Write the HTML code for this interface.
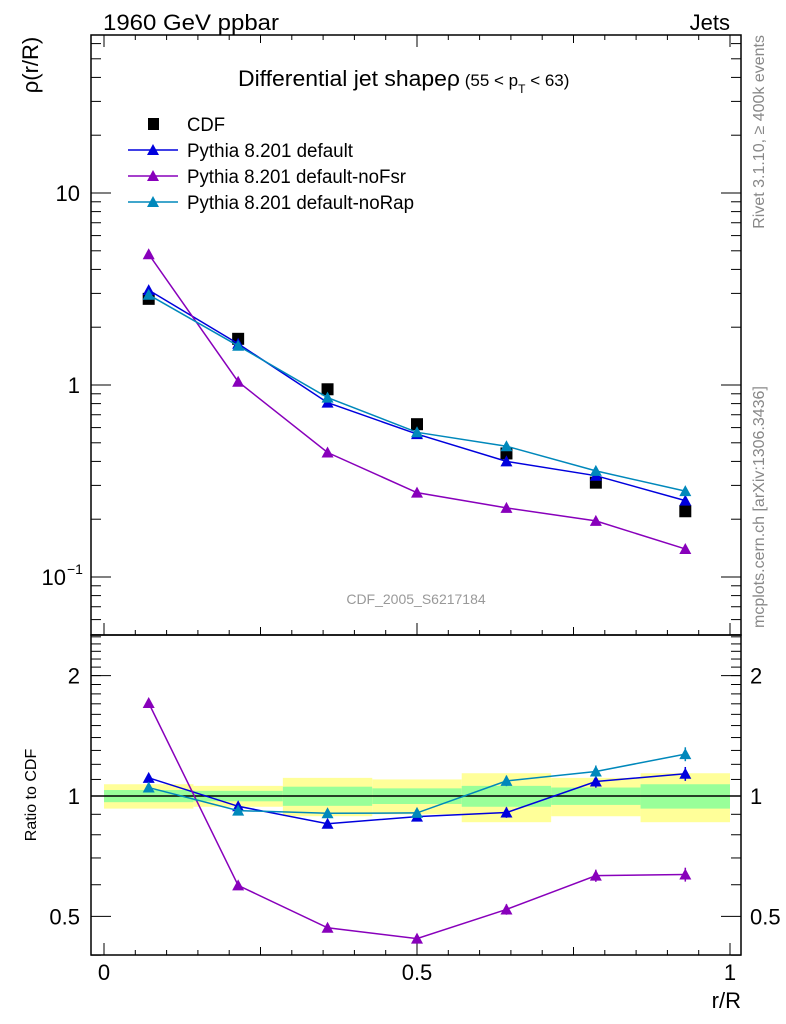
<!DOCTYPE html>
<html><head><meta charset="utf-8"><style>
body{margin:0;background:#fff;}
svg{display:block;font-family:"Liberation Sans",sans-serif;}
</style></head><body>
<svg id="c" width="786" height="1024" xmlns="http://www.w3.org/2000/svg">
<text x="103" y="30" font-size="22" textLength="176" lengthAdjust="spacingAndGlyphs">1960 GeV ppbar</text>
<text x="730" y="30" font-size="22" text-anchor="end">Jets</text>
<text x="238" y="86" font-size="22"><tspan textLength="222" lengthAdjust="spacingAndGlyphs">Differential jet shapeρ</tspan><tspan font-size="17"> (55 &lt; p</tspan><tspan font-size="12" dy="7">T</tspan><tspan font-size="17" dy="-7"> &lt; 63)</tspan></text>
<text transform="translate(38,65) rotate(-90)" font-size="22" text-anchor="middle">ρ(r/R)</text>
<text transform="translate(36,795) rotate(-90)" font-size="16" text-anchor="middle">Ratio to CDF</text>
<text x="741" y="1008" font-size="22" text-anchor="end">r/R</text>
<text transform="translate(764,35) rotate(-90)" font-size="16" fill="#888" text-anchor="end">Rivet 3.1.10, ≥ 400k events</text>
<text transform="translate(764,628) rotate(-90)" font-size="16" fill="#888">mcplots.cern.ch [arXiv:1306.3436]</text>
<text x="416" y="604" font-size="14" fill="#999" text-anchor="middle">CDF_2005_S6217184</text>
<g id="g"></g>
</svg>
<script>
const xCenters=[0.0714,0.2143,0.3571,0.5,0.6429,0.7857,0.9286];
const cdfVals=[2.81,1.74,0.95,0.625,0.44,0.31,0.22];
const defaultVals=[3.12,1.64,0.81,0.555,0.40,0.337,0.25];
const noFsrVals=[4.8,1.04,0.445,0.275,0.229,0.196,0.14];
const noRapVals=[2.95,1.60,0.86,0.567,0.48,0.357,0.28];
const mcErr=[0.01,0.012,0.02,0.02,0.03,0.035,0.04];
const bandTot=[0.07,0.06,0.11,0.10,0.14,0.11,0.14];
const bandStat=[0.035,0.03,0.055,0.045,0.06,0.05,0.07];
const xTickLabels=["0","0.5","1"];
const yTickLabels=["10","1","10"];

const NS="http://www.w3.org/2000/svg";
const G=document.getElementById('g');
const L=91,R=741,T=35,M=635,B=955;
const X=v=>104+v*626;
const Ym=v=>385-192*Math.log10(v);
const Yr=v=>796-400*Math.log10(v);
function el(t,a,p){const e=document.createElementNS(NS,t);for(const k in a)e.setAttribute(k,a[k]);(p||G).appendChild(e);return e;}

for(let i=0;i<7;i++){
  const x0=X(i/7),x1=X((i+1)/7);
  const y=el('rect',{x:x0,y:Yr(1+bandTot[i]),width:x1-x0,height:Yr(1-bandTot[i])-Yr(1+bandTot[i]),fill:'#ffff99'});
  
  
  const g=el('rect',{x:x0,y:Yr(1+bandStat[i]),width:x1-x0,height:Yr(1-bandStat[i])-Yr(1+bandStat[i]),fill:'#99ff99'});
  
  
}
el('line',{x1:L,x2:R,y1:Yr(1),y2:Yr(1),stroke:'#000','stroke-width':1.5});

const f1=el('rect',{x:L,y:T,width:R-L,height:M-T,fill:'none',stroke:'#000','stroke-width':1.5});


const f2=el('rect',{x:L,y:M,width:R-L,height:B-M,fill:'none',stroke:'#000','stroke-width':1.5});



for(let i=0;i<=20;i++){
  const v=i/20,x=X(v),len=i%5==0?(i%10==0?12:8):5;
  if(x<L||x>R)continue;
  el('line',{x1:x,x2:x,y1:B,y2:B-len,stroke:'#000'});
  el('line',{x1:x,x2:x,y1:M,y2:M-len,stroke:'#000'});
  el('line',{x1:x,x2:x,y1:T,y2:T+len,stroke:'#000'});
}
xTickLabels.forEach((s,i)=>{
  const t=el('text',{x:X(i*0.5),y:980,'font-size':22,'text-anchor':'middle'});t.textContent=s;
  
  
});
for(let d=-2;d<=1;d++){for(let k=1;k<10;k++){
  const v=k*Math.pow(10,d),y=Ym(v);if(y<T||y>M)continue;
  const len=k==1?20:10;
  el('line',{x1:L,x2:L+len,y1:y,y2:y,stroke:'#000'});
  el('line',{x1:R,x2:R-len,y1:y,y2:y,stroke:'#000'});
}}
[[10,'10'],[1,'1']].forEach(([v,s])=>{
  const t=el('text',{x:80,y:Ym(v)+8,'font-size':22,'text-anchor':'end'});t.textContent=s;
  
  
});
{const t=el('text',{x:66,y:Ym(0.1)+8,'font-size':22,'text-anchor':'end'});t.textContent=yTickLabels[2];
 
 
 const s=el('text',{x:67,y:Ym(0.1)-3,'font-size':14});s.textContent='−1';}
[0.4,0.5,0.6,0.7,0.8,0.9,1,2].forEach(v=>{const y=Yr(v);const len=(v==0.5||v==1||v==2)?20:10;
  el('line',{x1:L,x2:L+len,y1:y,y2:y,stroke:'#000'});el('line',{x1:R,x2:R-len,y1:y,y2:y,stroke:'#000'});});
for(let v=1.1;v<2.55;v+=0.1){const y=Yr(v);if(y<M)continue;
  el('line',{x1:L,x2:L+10,y1:y,y2:y,stroke:'#000'});el('line',{x1:R,x2:R-10,y1:y,y2:y,stroke:'#000'});}
[[2,'2'],[1,'1'],[0.5,'0.5']].forEach(([v,s])=>{
  const a=el('text',{x:80,y:Yr(v)+8,'font-size':22,'text-anchor':'end'});a.textContent=s;
  
  
  const b=el('text',{x:750,y:Yr(v)+8,'font-size':22});b.textContent=s;
  
  
});

function tri(x,y,c){return el('path',{d:`M${x} ${y-6}L${x+6} ${y+5}L${x-6} ${y+5}Z`,fill:c});}
function series(vals,color,name){
  let p='',q='';
  vals.forEach((v,i)=>{const x=X(xCenters[i]);p+=(i?'L':'M')+x+' '+Ym(v);q+=(i?'L':'M')+x+' '+Yr(v/cdfVals[i]);});
  const l1=el('path',{d:p,fill:'none',stroke:color,'stroke-width':1.5});
  
  
  const l2=el('path',{d:q,fill:'none',stroke:color,'stroke-width':1.5});
  
  
  vals.forEach((v,i)=>{const x=X(xCenters[i]);const r=v/cdfVals[i];
    const e=mcErr[i];
    el('line',{x1:x,x2:x,y1:Yr(r*(1+e)),y2:Yr(r*(1-e)),stroke:color,'stroke-width':1.5});
    el('line',{x1:x,x2:x,y1:Ym(v*(1+e)),y2:Ym(v*(1-e)),stroke:color,'stroke-width':1.5});
    const m=tri(x,Ym(v),color);
    
    
    const m2=tri(x,Yr(r),color);
    
    
  });
}
cdfVals.forEach((v,i)=>{const x=X(xCenters[i]);
  const s=el('rect',{x:x-6,y:Ym(v)-6,width:12,height:12,fill:'#000'});
  
  
});
series(defaultVals,'#0000dd','pythia-default');
series(noFsrVals,'#8800bb','pythia-nofsr');
series(noRapVals,'#0088bb','pythia-norap');

const leg=[['CDF','#000',0,38],['Pythia 8.201 default','#0000dd',1,166],['Pythia 8.201 default-noFsr','#8800bb',1,219],['Pythia 8.201 default-noRap','#0088bb',1,227]];
leg.forEach(([s,c,m,w],i)=>{const y=124+i*26;
  const g=el('g',{});
  
  
  if(m){el('line',{x1:128,x2:178,y1:y,y2:y,stroke:c,'stroke-width':1.5},g);el('path',{d:`M153 ${y-6}L159 ${y+5}L147 ${y+5}Z`,fill:c},g);}
  else el('rect',{x:148,y:y-6,width:11,height:12,fill:'#000'},g);
  const t=el('text',{x:187,y:y+7,'font-size':19,textLength:w,lengthAdjust:'spacingAndGlyphs'},g);t.textContent=s;
});
</script>
</body></html>
